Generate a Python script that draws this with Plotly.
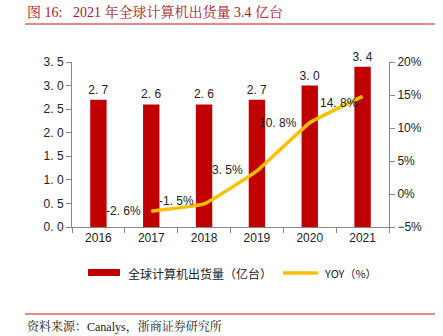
import plotly.graph_objects as go

years = ["2016", "2017", "2018", "2019", "2020", "2021"]
shipments = [2.7, 2.6, 2.6, 2.7, 3.0, 3.4]
yoy_years = ["2017", "2018", "2019", "2020", "2021"]
yoy = [-2.6, -1.5, 3.5, 10.8, 14.8]
left_ticks = [0, 0.5, 1.0, 1.5, 2.0, 2.5, 3.0, 3.5]
left_ticktext = ["0. 0", "0. 5", "1. 0", "1. 5", "2. 0", "2. 5", "3. 0", "3. 5"]
right_ticks = [-5, 0, 5, 10, 15, 20]
right_ticktext = ["−5%", "0%", "5%", "10%", "15%", "20%"]

W, H = 443, 336
L, R, T, B = 72, 389, 62, 227

cjk = "Noto Sans CJK SC"
serif = "Liberation Serif, Noto Serif CJK SC, Noto Sans CJK SC"
sans = "Arial, Liberation Sans"

# label offsets (pixels) for the YOY labels
label_dx = [-8, -8, -12, -11, -3]
label_dy = [0, 3, 1, 0, -7]


def px_x(px):
    return (px - L) / (R - L)


def px_y(py):
    return 1 - (py - T) / (B - T)


fig = go.Figure()
fig.add_trace(go.Bar(
    x=years, y=shipments, name="全球计算机出货量（亿台）",
    marker=dict(color="#C00000", line=dict(width=0)), width=0.31,
    text=[f"{v:.1f}".replace(".", ". ") for v in shipments],
    textposition="outside", cliponaxis=False, constraintext="none",
    textfont=dict(family=sans, size=12, color="#222"),
    yaxis="y", showlegend=False,
))
fig.add_trace(go.Scatter(
    x=yoy_years, y=yoy, name="YOY（%）", mode="lines",
    line=dict(color="#FFC000", width=3.5, shape="spline", smoothing=0.3),
    yaxis="y2", cliponaxis=False, showlegend=False,
))

for yr, v, dx, dy in zip(yoy_years, yoy, label_dx, label_dy):
    fig.add_annotation(x=years.index(yr), y=v, xref="x", yref="y2", showarrow=False,
                       xanchor="right", yanchor="middle", xshift=dx, yshift=dy,
                       text=f"{v:.1f}".replace(".", ". ").replace("-", "‐") + "%",
                       font=dict(family=sans, size=12, color="#222"))

fig.update_layout(
    width=W, height=H,
    margin=dict(l=L, r=W - R, t=T, b=H - B),
    paper_bgcolor="white", plot_bgcolor="white",
    showlegend=False,
    xaxis=dict(type="category", range=[-0.5, len(years) - 0.5],
               showline=True, linecolor="#888", linewidth=1,
               ticks="outside", tickson="boundaries", ticklen=5, tickcolor="#888",
               tickfont=dict(family=sans, size=12, color="#222"),
               showgrid=False, zeroline=False),
    yaxis=dict(range=[0, 3.5], tickvals=left_ticks, ticktext=left_ticktext,
               showline=True, linecolor="#888", linewidth=1, ticks="outside",
               ticklen=5, tickcolor="#888", showgrid=False, zeroline=False,
               tickfont=dict(family=sans, size=12, color="#222")),
    yaxis2=dict(range=[-5, 20], tickvals=right_ticks, ticktext=right_ticktext,
                overlaying="y", side="right", showline=True, linecolor="#888",
                linewidth=1, ticks="outside", ticklen=5, tickcolor="#888",
                showgrid=False, zeroline=False,
                tickfont=dict(family=sans, size=12, color="#222")),
)

# legend (drawn manually)
fig.add_shape(type="rect", xref="paper", yref="paper",
              x0=px_x(88), x1=px_x(120), y0=px_y(276), y1=px_y(269),
              fillcolor="#C00000", line=dict(width=0))
fig.add_annotation(xref="paper", yref="paper", x=px_x(126), y=px_y(273),
                   xanchor="left", yanchor="middle", showarrow=False,
                   text="全球计算机出货量（亿台）",
                   font=dict(family=cjk, size=12, color="#222"))
fig.add_shape(type="line", xref="paper", yref="paper",
              x0=px_x(283), x1=px_x(318), y0=px_y(273), y1=px_y(273),
              line=dict(color="#FFC000", width=3.5))
fig.add_annotation(xref="paper", yref="paper", x=px_x(322), y=px_y(273),
                   xanchor="left", yanchor="middle", showarrow=False,
                   text="YOY（%）",
                   font=dict(family=cjk, size=11, color="#222"))

fig.add_annotation(xref="paper", yref="paper", x=px_x(25), y=px_y(12),
                   xanchor="left", yanchor="middle", showarrow=False,
                   text="图 16:&#160;&#160;&#160;2021 年全球计算机出货量 3.4 亿台",
                   font=dict(family=serif, size=14, color="#B0151C"))
fig.add_annotation(xref="paper", yref="paper", x=px_x(25), y=px_y(326),
                   xanchor="left", yanchor="middle", showarrow=False,
                   text="资料来源：Canalys，浙商证券研究所",
                   font=dict(family=serif, size=12, color="#222"))
for yy in (24, 314):
    fig.add_shape(type="line", xref="paper", yref="paper",
                  x0=px_x(25), x1=px_x(435), y0=px_y(yy), y1=px_y(yy),
                  line=dict(color="#E06060", width=1.5))

fig.write_html("out.html")
